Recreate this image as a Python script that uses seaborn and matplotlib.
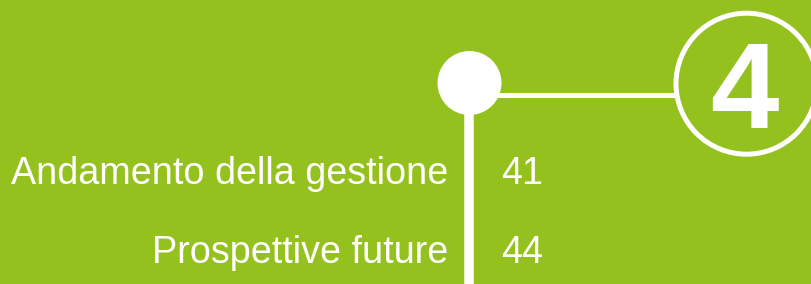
import matplotlib
matplotlib.use("Agg")
import matplotlib.pyplot as plt
import seaborn as sns
import pandas as pd
from matplotlib.patches import Circle

# Content
chapter_number = "4"
section_titles = ["Andamento della gestione", "Prospettive future"]
section_pages = ["41", "44"]

BG = "#95C11F"
FG = "white"

sns.set_theme(style="white")
plt.rcParams["font.family"] = ["Liberation Sans", "DejaVu Sans"]

W, H = 812, 284
fig = plt.figure(figsize=(W / 100, H / 100), dpi=100, facecolor=BG)
ax = fig.add_axes([0, 0, 1, 1])
ax.set_facecolor(BG)

PX = 72 / 100  # points per pixel

# vertical timeline line
ax.plot([469.5, 469.5], [83, H + 5], color=FG, lw=9.5 * PX, solid_capstyle="butt", zorder=2)
# horizontal connector
ax.plot([495, 675], [95, 95], color=FG, lw=5 * PX, solid_capstyle="butt", zorder=2)

# big dot (seaborn scatter)
dot = pd.DataFrame({"x": [469.5], "y": [83]})
sns.scatterplot(data=dot, x="x", y="y", ax=ax, s=(64 * PX) ** 2, color=FG,
                edgecolor="none", zorder=3, legend=False)
ax.set_xlabel("")
ax.set_ylabel("")
ax.set_xlim(0, W)
ax.set_ylim(H, 0)
ax.axis("off")

# ring with chapter number
ax.add_patch(Circle((746.5, 83.7), 70.5, fill=False, edgecolor=FG, lw=5 * PX, zorder=3))
ax.text(744, 127.7, chapter_number, color=FG, fontsize=123 * PX, fontweight="bold",
        ha="center", va="baseline", zorder=4)

# section list
baselines = [184.5, 263]
fs = 37.8 * PX
for title, page, yb in zip(section_titles, section_pages, baselines):
    ax.text(448, yb, title, color=FG, fontsize=fs, ha="right", va="baseline")
    ax.text(501, yb, page, color=FG, fontsize=fs, ha="left", va="baseline")

fig.savefig("out.png", dpi=100, facecolor=BG)
